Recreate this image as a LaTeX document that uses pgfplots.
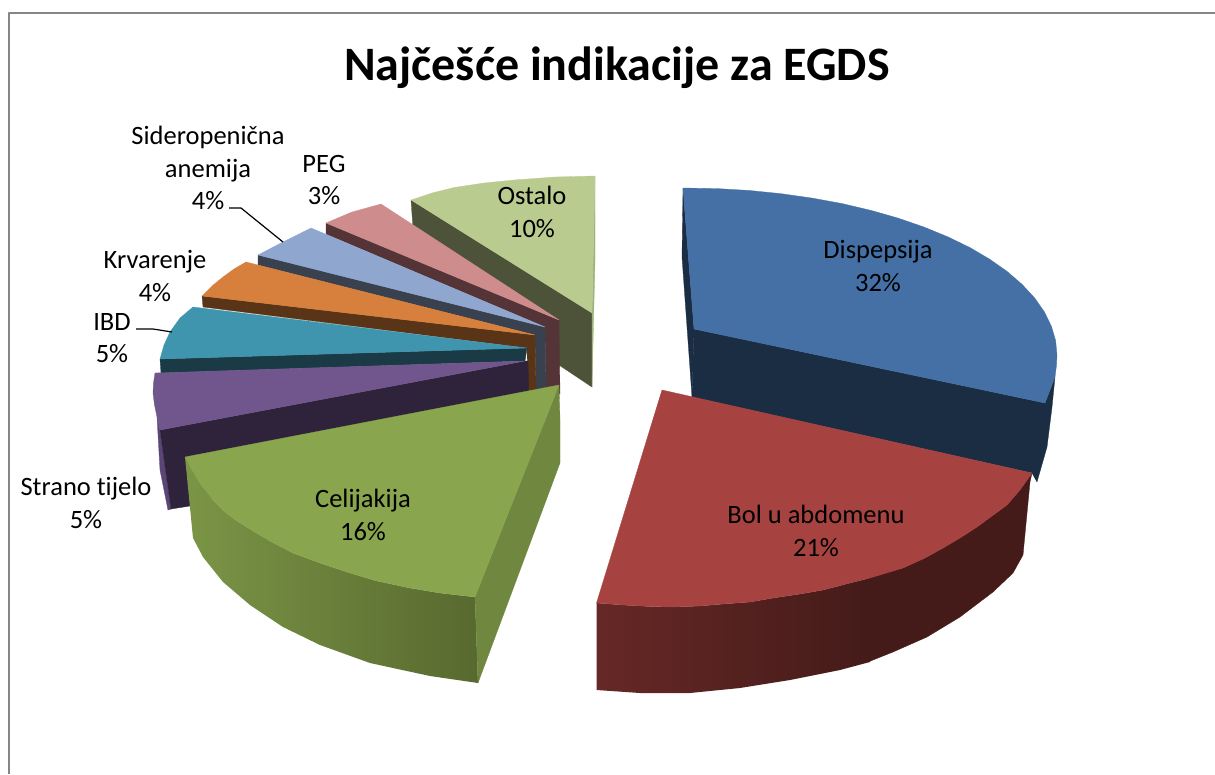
\documentclass[border=0pt]{standalone}
\usepackage{fontspec}
\setmainfont[Ligatures=NoCommon]{Carlito}
\usepackage{pgfplots}
\pgfplotsset{compat=1.18}
\tikzset{lab/.style={font=\fontsize{26.5}{32.5}\selectfont, align=center, text=black, inner sep=0pt}}
\definecolor{dtop}{HTML}{4470A5}\definecolor{dside}{HTML}{1B2D43}
\definecolor{rtop}{HTML}{A64341}\definecolor{rsa}{HTML}{662826}\definecolor{rsb}{HTML}{441B19}
\definecolor{gtop}{HTML}{89A54E}\definecolor{gsa}{HTML}{7B9546}\definecolor{gsb}{HTML}{58692F}\definecolor{gcut}{HTML}{70873F}
\definecolor{ptop}{HTML}{71568D}\definecolor{pside}{HTML}{2E233A}\definecolor{psl}{HTML}{5B4576}
\definecolor{ttop}{HTML}{3F94AE}\definecolor{tside}{HTML}{1A3B46}
\definecolor{otop}{HTML}{D77F3C}\definecolor{oside}{HTML}{5A3417}
\definecolor{btop}{HTML}{8FA6CE}\definecolor{bside}{HTML}{39414F}
\definecolor{ktop}{HTML}{CE8D8C}\definecolor{kside}{HTML}{553438}
\definecolor{ltop}{HTML}{B9CB8F}\definecolor{lside}{HTML}{4D5339}\definecolor{lsl}{HTML}{9FB27A}
\definecolor{frame}{HTML}{868686}
\begin{document}
\begin{tikzpicture}
\begin{axis}[hide axis, scale only axis, width=1215pt, height=774pt,
  xmin=0, xmax=1215, ymin=0, ymax=774, y dir=reverse, clip=true,
  every axis plot/.append style={no markers, line width=0.3pt, line join=round}]
\path (axis cs:0,0) rectangle (axis cs:1215,774);
% Ostalo
\addplot[fill=lside,draw=lside] coordinates {(411,200)(592,313)(592,387)(559,365)(559,320)(413,228)} --cycle;
\addplot[fill=lsl,draw=lsl] coordinates {(595,176)(595,260)(592,387)(592,313)} --cycle;
\addplot[fill=ltop,draw=ltop] coordinates {(411,200)(432,193)(454,187.5)(484,183)(514,180)(555,177)(595,176)(592,313)} --cycle;
% PEG
\addplot[fill=kside,draw=kside] coordinates {(326,223)(326,234)(545,327)(546,392)(560,394)(559,320)} --cycle;
\addplot[fill=ktop,draw=ktop] coordinates {(326,223)(352,212)(381,204)(559,320)} --cycle;
% Sideropenicna
\addplot[fill=bside,draw=bside] coordinates {(258,255)(258,265)(535,335)(536,390)(546,388)(545,327)} --cycle;
\addplot[fill=btop,draw=btop] coordinates {(258,255)(283,242)(311,228)(545,327)} --cycle;
% Krvarenje
\addplot[fill=oside,draw=oside] coordinates {(202,296)(203,307)(527,348)(528,392)(536,390)(535,335)} --cycle;
\addplot[fill=otop,draw=otop] coordinates {(202,296)(212,286)(223,277)(234,269)(246,262)(535,335)} --cycle;
% IBD
\addplot[fill=tside,draw=tside] coordinates {(160,359)(161,373)(525,361)(527,348)} --cycle;
\addplot[fill=ttop,draw=ttop] coordinates {(160,359)(164,345)(170,332)(180,318)(193,307)(527,348)} --cycle;
% Strano tijelo
\addplot[fill=psl,draw=psl] coordinates {(157,417)(160,470)(168,510)(171,509)(160,430)} --cycle;
\addplot[fill=pside,draw=pside] coordinates {(160,430)(171,509)(190,506)(529,400)(528,361)(525,361)} --cycle;
\addplot[fill=ptop,draw=ptop] coordinates {(155,373)(153.5,383)(153,393)(154.5,405)(157,417)(160,430)(525,361)} --cycle;
% Celijakija
\addplot[left color=gsa,right color=gsb,draw=none] coordinates {(185,457)(190,467)(200,484)(213,500)(225,512)(237,521)(253,531)(270,541)(293,553)(320,563)(350,573)(377,581)(410,588)(440,593)(475,597)(478,683)(430,676)(393,668)(370,663)(320,645)(283,627)(250,605)(223,582)(203,557)(193,538)} --cycle;
\addplot[fill=gcut,draw=gcut] coordinates {(559,385)(475,597)(478,683)(560,463)(560,420)} --cycle;
\addplot[fill=gtop,draw=gtop] coordinates {(185,457)(559,385)(475,597)(440,593)(410,588)(377,581)(350,573)(320,563)(293,553)(270,541)(253,531)(237,521)(225,512)(213,500)(200,484)(190,467)} --cycle;
% Dispepsija
\addplot[fill=dside,draw=dside] coordinates {(683,188)(682,257)(692,397)(694,329)} --cycle;
\addplot[fill=dside,draw=dside] coordinates {(694,329)(1045,403)(1055,377)(1052,407)(1047,447)(1037,482)(1032,473)(692,397)} --cycle;
\addplot[fill=dtop,draw=dtop] coordinates {(683,188)(717.4,188.6)(749.6,190.5)(781.3,193.7)(812.2,198.1)(842.2,203.6)(871,210.4)(898.4,218.2)(924.1,227.1)(948,236.9)(970,247.6)(989.7,259.2)(1007.2,271.5)(1022.1,284.4)(1034.6,297.9)(1044.3,311.8)(1051.3,326)(1055.6,340.4)(1057,355)(1056.5,365)(1055,377)(1045,403)(694,329)} --cycle;
% Bol u abdomenu
\addplot[fill=rsb,draw=rsb] coordinates {(868,578)(903,568)(925,558)(943,548)(960,538)(977,527)(992,516)(1007,505)(1020,490)(1032,473)(1030,482)(1023,555)(1013,573)(993,592)(960,617)(927,637)(893,652)(873,660)(868,662)} --cycle;
\addplot[left color=rsa,right color=rsb,draw=none] coordinates {(596.5,603)(623,605)(650,606.5)(673,607)(700,606)(723,604)(750,602)(773,598)(800,594)(823,590)(850,583)(870,578)(870,662)(840,670)(790,680)(740,688)(690,693)(640,693)(596.5,690)} --cycle;
\addplot[fill=rtop,draw=rtop] coordinates {(662,390)(1032,473)(1020,490)(1007,505)(992,516)(977,527)(960,538)(943,548)(925,558)(903,568)(870,578)(850,583)(823,590)(800,594)(773,598)(750,602)(723,604)(700,606)(673,607)(650,606.5)(623,605)(596.5,603)} --cycle;
% leaders
\addplot[black,line width=1.2pt] coordinates {(229,208)(241,208)(283,242)};
\addplot[black,line width=1.2pt] coordinates {(136,329)(153,329)(172,332)};
% frame
\addplot[color=frame,line width=2pt] coordinates {(9,774)(9,13)(1215,13)};
% text
\node[font=\fontsize{48}{54}\selectfont\bfseries,inner sep=0pt] at (axis cs:617,67.5) {Najčešće indikacije za EGDS};
\node[lab] at (axis cs:878,266) {Dispepsija\\32\%};
\node[lab] at (axis cs:816,531) {Bol u abdomenu\\21\%};
\node[lab] at (axis cs:363,515) {Celijakija\\16\%};
\node[lab] at (axis cs:86,503) {Strano tijelo\\5\%};
\node[lab] at (axis cs:112,338) {IBD\\5\%};
\node[lab] at (axis cs:155,276) {Krvarenje\\4\%};
\node[lab] at (axis cs:208,168) {Sideropenična\\anemija\\4\%};
\node[lab] at (axis cs:324,180) {PEG\\3\%};
\node[lab] at (axis cs:532,212) {Ostalo\\10\%};
\end{axis}
\end{tikzpicture}
\end{document}
